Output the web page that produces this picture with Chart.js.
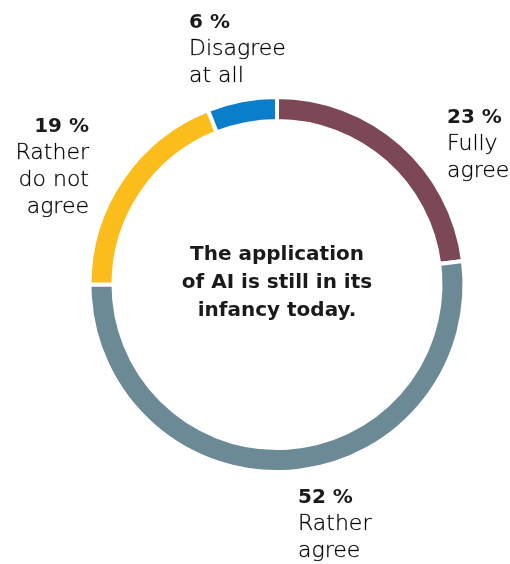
<!DOCTYPE html>
<html>
<head>
<meta charset="utf-8">
<title>The application of AI is still in its infancy today.</title>
<script src="https://cdn.jsdelivr.net/npm/chart.js@4"></script>
<style>
  html, body { margin: 0; padding: 0; background: #ffffff; }
  #wrap { width: 510px; height: 564px; position: relative; }
</style>
</head>
<body>
<div id="wrap"><canvas id="chart" width="510" height="564"></canvas></div>
<script>
// Survey answers, clockwise from 12 o'clock
const categories = ['Fully agree', 'Rather agree', 'Rather do not agree', 'Disagree at all'];
const shares = [23, 52, 19, 6];
const labelLines = [['Fully', 'agree'], ['Rather', 'agree'], ['Rather', 'do not', 'agree'], ['Disagree', 'at all']];
const centerTitle = ['The application', 'of AI is still in its', 'infancy today.'];

const colors = ['#7c4855', '#6b8a96', '#fbbd1c', '#0a7ecb'];
const BOLD_FONT = '"DejaVu Sans", sans-serif';
const LIGHT_FONT = '"DejaVu Sans", sans-serif';

// Anchor of each outside label: x, y of the first (bold) baseline, alignment
const labelAnchors = [
  { x: 447, y: 123, align: 'left' },
  { x: 298, y: 503, align: 'left' },
  { x: 89,  y: 132, align: 'right' },
  { x: 189, y: 28,  align: 'left' }
];

const textPlugin = {
  id: 'ringText',
  afterDraw(chart) {
    const ctx = chart.ctx;
    const arc = chart.getDatasetMeta(0).data[0];
    ctx.save();
    ctx.textBaseline = 'alphabetic';

    // centre title
    ctx.fillStyle = '#1a1a1a';
    ctx.textAlign = 'center';
    ctx.font = 'bold 20px ' + BOLD_FONT;
    centerTitle.forEach((line, i) => {
      ctx.fillText(line, arc.x, 260 + i * 28);
    });

    // outside labels: bold share, then the answer text
    shares.forEach((v, i) => {
      const a = labelAnchors[i];
      ctx.textAlign = a.align;
      ctx.fillStyle = '#1a1a1a';
      ctx.font = 'bold 20px ' + BOLD_FONT;
      ctx.fillText(v + ' %', a.x, a.y);
      ctx.font = '200 22px ' + LIGHT_FONT;
      ctx.fillStyle = '#000000';
      ctx.strokeStyle = 'rgba(0,0,0,0.55)';
      ctx.lineWidth = 0.5;
      labelLines[i].forEach((line, j) => {
        const y = a.y + 27 + j * 27;
        ctx.fillText(line, a.x, y);
        ctx.strokeText(line, a.x, y);
      });
    });
    ctx.restore();
  }
};

new Chart(document.getElementById('chart'), {
  type: 'doughnut',
  data: {
    labels: categories,
    datasets: [{
      data: shares,
      backgroundColor: colors,
      borderColor: '#ffffff',
      borderWidth: 4,
      hoverOffset: 0
    }]
  },
  options: {
    responsive: false,
    animation: false,
    cutout: '87.2%',
    rotation: 0,
    layout: { padding: { left: 87.5, right: 43.5, top: 95, bottom: 90 } },
    plugins: {
      legend: { display: false },
      tooltip: { enabled: false }
    }
  },
  plugins: [textPlugin]
});
</script>
</body>
</html>
